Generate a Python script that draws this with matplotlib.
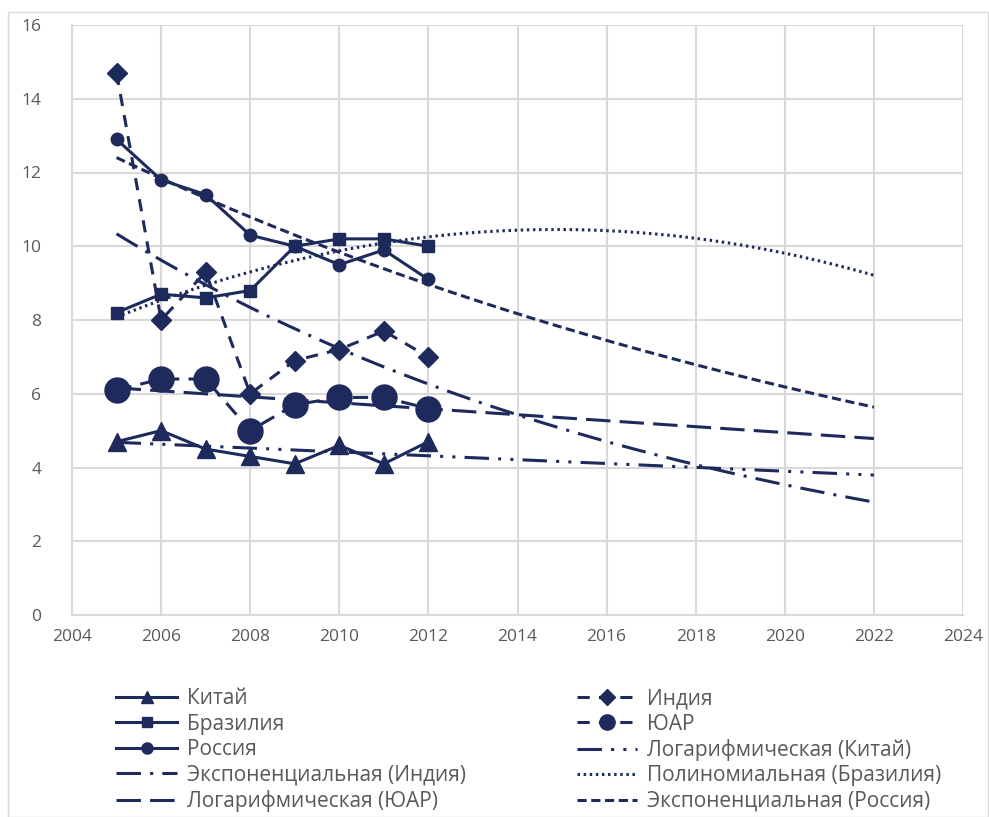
import numpy as np
import matplotlib.pyplot as plt
from matplotlib.patches import Rectangle
from matplotlib.lines import Line2D

plt.rcParams['font.family'] = ['Open Sans', 'DejaVu Sans']

# данные
years = [2005, 2006, 2007, 2008, 2009, 2010, 2011, 2012]
kitay = [4.7, 5.0, 4.5, 4.3, 4.1, 4.6, 4.1, 4.7]
india = [14.7, 8.0, 9.3, 6.0, 6.9, 7.2, 7.7, 7.0]
brazil = [8.2, 8.7, 8.6, 8.8, 10.0, 10.2, 10.2, 10.0]
yuar = [6.1, 6.4, 6.4, 5.0, 5.7, 5.9, 5.9, 5.6]
russia = [12.9, 11.8, 11.4, 10.3, 10.0, 9.5, 9.9, 9.1]
trend_end = 2022

col = '#1f2a5c'
grid_col = '#d9d9d9'
txt_col = '#595959'

fig = plt.figure(figsize=(9.89, 8.17), dpi=100)
fig.patches.append(Rectangle((8/989, 0), 1 - 8/989 - 0.001, 1 - 12/817,
                             transform=fig.transFigure, fill=False,
                             edgecolor=grid_col, lw=1))
ax = fig.add_axes([72/989, 1 - 615/817, (963 - 72)/989, (615 - 25)/817])

x = np.array(years, dtype=float)
xt = np.linspace(years[0], trend_end, 200)

# линии трендов, как в Excel
a, b = np.polyfit(np.log(x), kitay, 1)
ax.plot(xt, a*np.log(xt) + b, color=col, lw=2.2, ls=(0, (8, 3, 1, 3, 1, 3)))
a, b = np.polyfit(x - 2005, np.log(india), 1)
ax.plot(xt, np.exp(a*(xt - 2005) + b), color=col, lw=2.2, ls=(0, (8, 3, 1, 3)))
p = np.polyfit(x - 2005, brazil, 2)
ax.plot(xt, np.polyval(p, xt - 2005), color=col, lw=2.2, ls=(0, (0.8, 1.2)))
a, b = np.polyfit(np.log(x), yuar, 1)
ax.plot(xt, a*np.log(xt) + b, color=col, lw=2.2, ls=(0, (8, 3)))
a, b = np.polyfit(x - 2005, np.log(russia), 1)
ax.plot(xt, np.exp(a*(xt - 2005) + b), color=col, lw=2.2, ls=(0, (3, 1.5)))

# ряды
ax.plot(years, kitay, color=col, lw=2.2, marker='^', ms=13)
ax.plot(years, india, color=col, lw=2.2, ls=(0, (4, 3)), marker='D', ms=10)
ax.plot(years, brazil, color=col, lw=2.2, marker='s', ms=8)
ax.plot(years, yuar, color=col, lw=2.2, ls=(0, (5, 3)), marker='o', ms=18)
ax.plot(years, russia, color=col, lw=2.2, marker='o', ms=9)

ax.set_xlim(2004, 2024)
ax.set_ylim(0, 16)
ax.set_xticks(range(2004, 2025, 2))
ax.set_yticks(range(0, 17, 2))
ax.grid(True, color=grid_col, lw=1.5)
ax.set_axisbelow(True)
for s in ax.spines.values():
    s.set_visible(False)
ax.spines['left'].set_visible(True)
ax.spines['left'].set_color(grid_col)
ax.spines['left'].set_linewidth(1.5)
ax.spines['bottom'].set_visible(True)
ax.spines['bottom'].set_color(grid_col)
ax.spines['bottom'].set_linewidth(1.5)
ax.tick_params(length=0, labelsize=12.5, colors=txt_col, pad=10)
ax.tick_params(axis='y', pad=22)

# легенда: порядок по строкам, как в оригинале
h = {
    'Китай': Line2D([], [], color=col, lw=2.2, marker='^', ms=9),
    'Индия': Line2D([], [], color=col, lw=2.2, ls=(0, (4, 3)), marker='D', ms=8),
    'Бразилия': Line2D([], [], color=col, lw=2.2, marker='s', ms=7),
    'ЮАР': Line2D([], [], color=col, lw=2.2, ls=(0, (4, 3)), marker='o', ms=11),
    'Россия': Line2D([], [], color=col, lw=2.2, marker='o', ms=8),
    'Логарифмическая (Китай)': Line2D([], [], color=col, lw=2.2, ls=(0, (8, 3, 1, 3, 1, 3))),
    'Экспоненциальная (Индия)': Line2D([], [], color=col, lw=2.2, ls=(0, (8, 3, 1, 3))),
    'Полиномиальная (Бразилия)': Line2D([], [], color=col, lw=2.2, ls=(0, (0.8, 1.2))),
    'Логарифмическая (ЮАР)': Line2D([], [], color=col, lw=2.2, ls=(0, (8, 3))),
    'Экспоненциальная (Россия)': Line2D([], [], color=col, lw=2.2, ls=(0, (3, 1.5))),
}
names = list(h.keys())
order = names[0::2] + names[1::2]
leg = fig.legend([h[n] for n in order], order, ncol=2, frameon=False,
                 loc='upper left', bbox_to_anchor=(108/989, 1 - 680/817),
                 fontsize=15, handlelength=2.9, handletextpad=0.5,
                 labelspacing=0.21, columnspacing=5.3, borderaxespad=0)
for t in leg.get_texts():
    t.set_color(txt_col)

fig.savefig('out.png', dpi=100)
